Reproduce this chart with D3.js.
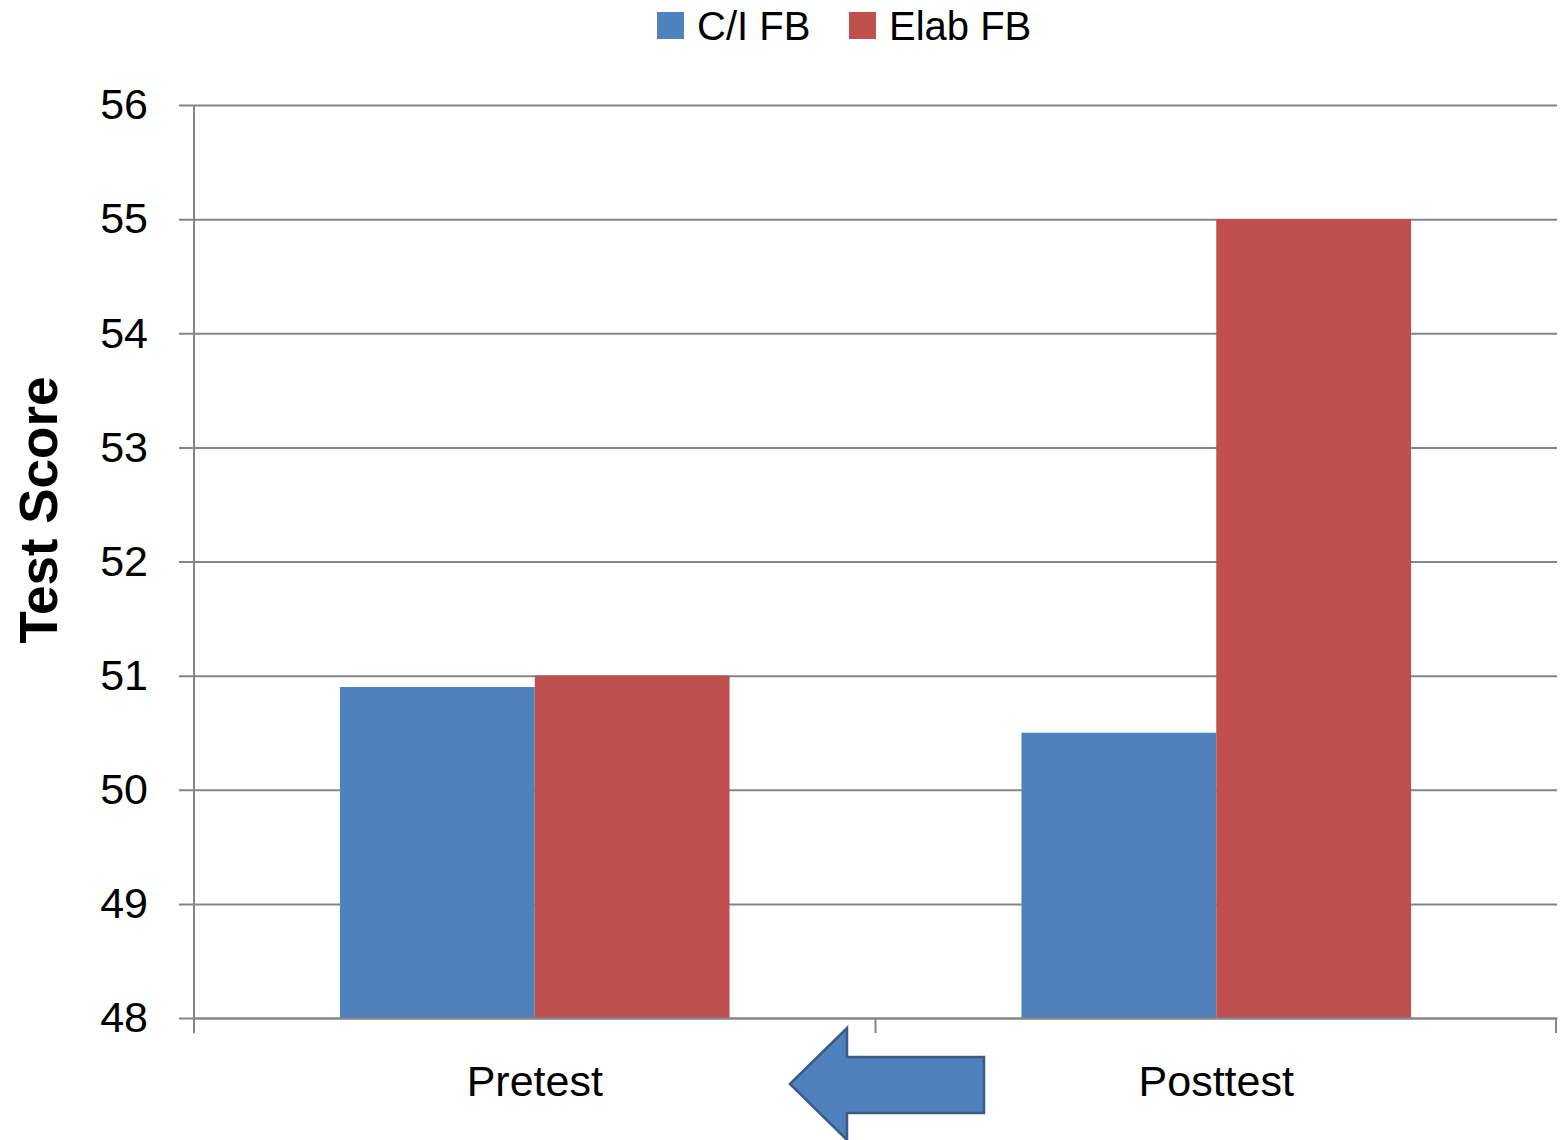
<!DOCTYPE html>
<html>
<head>
<meta charset="utf-8">
<script src="https://cdn.jsdelivr.net/npm/d3@7"></script>
<style>
  html, body { margin: 0; padding: 0; background: #fff; }
  svg { display: block; font-family: "Liberation Sans", Arial, sans-serif; }
</style>
</head>
<body>
<svg id="chart" width="1560" height="1140"></svg>
<script>
// Test scores by phase and feedback condition
const categories = ["Pretest", "Posttest"];
const seriesNames = ["C/I FB", "Elab FB"];
const ciValues = [50.9, 50.5];
const elabValues = [51.0, 55.0];
const yTicks = [48, 49, 50, 51, 52, 53, 54, 55, 56];
const colors = ["#4F81BD", "#C0504D"];

const svg = d3.select("#chart");
const margin = { left: 194, right: 3, top: 105, bottom: 122 };
const W = 1560, H = 1140;
const x0 = margin.left, x1 = W - margin.right;
const yTop = margin.top, yBot = H - margin.bottom;

const y = d3.scaleLinear().domain([48, 56]).range([yBot, yTop]);
const x = d3.scaleBand().domain(categories).range([x0, x1]).padding(0);
const bw = x.bandwidth();
const groupW = bw * 0.5716;
const xs = d3.scaleBand().domain(seriesNames)
  .range([(bw - groupW) / 2, (bw + groupW) / 2]).padding(0);

const gridColor = "#868686";

// horizontal gridlines with left tick stubs
const yAxis = d3.axisLeft(y).tickValues(yTicks).tickSize(-(x1 - x0)).tickSizeOuter(0).tickPadding(46).tickFormat(d3.format("d"));
const gy = svg.append("g").attr("transform", `translate(${x0},0)`).call(yAxis);
gy.select(".domain").remove();
gy.selectAll(".tick line").attr("stroke", gridColor).attr("stroke-width", 2).attr("x1", -15);
gy.selectAll(".tick text").attr("font-size", 43).attr("fill", "#000")
  .attr("font-family", "Liberation Sans, Arial, sans-serif");

// bars
const data = categories.map((c, i) => ({ cat: c, vals: [ciValues[i], elabValues[i]] }));
const groups = svg.append("g").selectAll("g").data(data).join("g")
  .attr("transform", d => `translate(${x(d.cat)},0)`);
groups.selectAll("rect").data(d => d.vals.map((v, j) => ({ name: seriesNames[j], v, j })))
  .join("rect")
  .attr("x", d => xs(d.name))
  .attr("width", xs.bandwidth())
  .attr("y", d => y(d.v))
  .attr("height", d => y(48) - y(d.v))
  .attr("fill", d => colors[d.j]);

// vertical axis line
svg.append("line").attr("x1", x0).attr("x2", x0).attr("y1", yTop).attr("y2", yBot + 15)
  .attr("stroke", gridColor).attr("stroke-width", 2);

// category axis
const xAxis = d3.axisBottom(x).tickSize(0).tickPadding(47);
const gx = svg.append("g").attr("transform", `translate(0,${yBot})`).call(xAxis);
gx.select(".domain").attr("stroke", gridColor).attr("stroke-width", 2);
gx.selectAll(".tick text").attr("font-size", 43).attr("fill", "#000")
  .attr("font-family", "Liberation Sans, Arial, sans-serif");
// category boundary ticks
const boundaries = [x0, x(categories[1]), x1 - 1];
svg.append("g").selectAll("line").data(boundaries).join("line")
  .attr("x1", d => d).attr("x2", d => d).attr("y1", yBot).attr("y2", yBot + 15)
  .attr("stroke", gridColor).attr("stroke-width", 2);

// y axis title
svg.append("text")
  .attr("transform", `translate(57,510) rotate(-90)`)
  .attr("text-anchor", "middle")
  .attr("font-size", 53).attr("font-weight", "bold").attr("fill", "#000")
  .text("Test Score");

// legend
const legend = svg.append("g");
const legendItems = [{ name: seriesNames[0], x: 657 }, { name: seriesNames[1], x: 849 }];
legendItems.forEach((it, i) => {
  legend.append("rect").attr("x", it.x).attr("y", 12).attr("width", 27).attr("height", 27)
    .attr("fill", colors[i]);
  legend.append("text").attr("x", it.x + 40).attr("y", 40)
    .attr("font-size", 40).attr("fill", "#000").text(it.name);
});

// block arrow pointing back toward the pretest
const arrow = d3.path();
arrow.moveTo(790, 1084);
arrow.lineTo(847, 1028);
arrow.lineTo(847, 1057);
arrow.lineTo(984, 1057);
arrow.lineTo(984, 1113);
arrow.lineTo(847, 1113);
arrow.lineTo(847, 1140);
arrow.closePath();
svg.append("path").attr("d", arrow.toString())
  .attr("fill", "#4F81BD").attr("stroke", "#385D8A").attr("stroke-width", 2.5)
  .attr("stroke-linejoin", "miter");
</script>
</body>
</html>
